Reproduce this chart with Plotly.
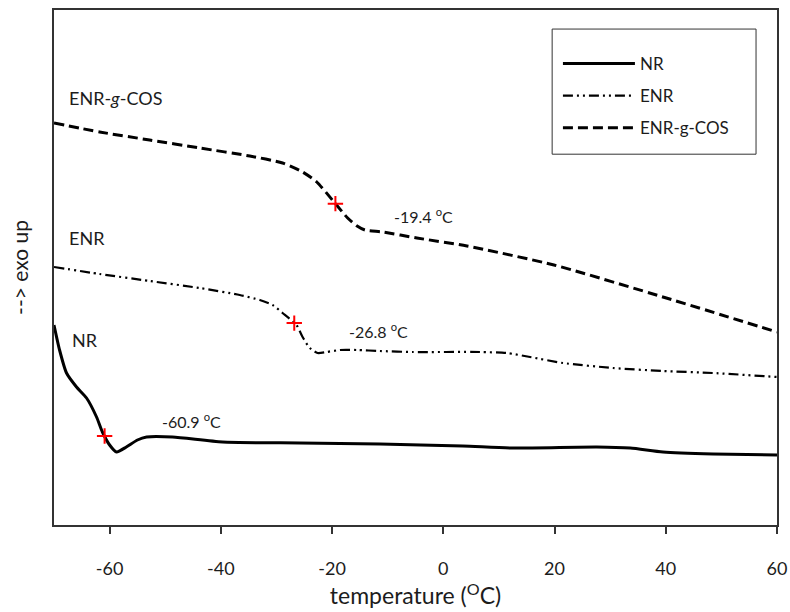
import numpy as np
import plotly.graph_objects as go

# DSC heat-flow traces (arbitrary units, exo up) vs temperature (°C)
nr_t = [-70, -69.0, -67.75, -65.95, -64.15, -62.35, -61.3, -60.0, -58.75, -57.0, -55.0,
        -53.35, -48.7, -39.7, -25.8, -11.4, 3.5, 12.5, 27.6, 33.6, 39.5, 48.5, 60]
nr_q = [2.00, 1.75, 1.52, 1.38, 1.27, 1.08, 0.93, 0.80, 0.73, 0.78, 0.85,
        0.88, 0.88, 0.83, 0.82, 0.81, 0.79, 0.77, 0.78, 0.77, 0.73, 0.71, 0.70]

enr_t = [-70, -61.8, -52.8, -43.8, -36.6, -33.0, -30.7, -28.9, -26.4, -25.3, -24.0,
         -22.6, -21.0, -18.6, -15.5, -11.4, -5.5, 6.6, 11.4, 15.6, 21.5, 30.5, 39.5, 48.5, 60]
enr_q = [2.58, 2.51, 2.44, 2.37, 2.30, 2.25, 2.20, 2.12, 2.00, 1.88, 1.77,
         1.72, 1.73, 1.75, 1.75, 1.74, 1.73, 1.73, 1.72, 1.68, 1.62, 1.57, 1.54, 1.52, 1.48]

cos_t = [-70, -61.8, -52.8, -43.8, -34.8, -28.9, -25.3, -22.75, -19.5, -17.2, -15.5,
         -14.1, -10.9, -4.75, 4.25, 19.9, 40.1, 60]
cos_q = [4.02, 3.93, 3.85, 3.77, 3.69, 3.62, 3.53, 3.43, 3.22, 3.07, 2.99,
         2.95, 2.93, 2.87, 2.79, 2.60, 2.27, 1.93]

# glass transition temperatures (°C)
tg_nr, tg_enr, tg_cos = -60.9, -26.8, -19.4

tick_vals = [-60, -40, -20, 0, 20, 40, 60]
tick_text = ["-60", "-40", "-20", "0", "20", "40", "60"]

FONT = "Lato"
TXT = "#1c1c1c"
AX = "#333333"

fig = go.Figure()

fig.add_trace(go.Scatter(
    x=nr_t, y=nr_q, name="NR", mode="lines", legendgroup="a",
    line=dict(color="black", width=3, shape="spline", smoothing=0.6)))
fig.add_trace(go.Scatter(
    x=enr_t, y=enr_q, name="ENR", mode="lines", legendgroup="b",
    line=dict(color="black", width=2.2, shape="spline", smoothing=0.6,
              dash="10px,4px,2px,4px,2px,4px")))
fig.add_trace(go.Scatter(
    x=cos_t, y=cos_q, name="ENR-g-COS", mode="lines", legendgroup="c",
    line=dict(color="black", width=3, shape="spline", smoothing=0.6,
              dash="10px,5px")))

# Tg markers placed on each curve
tg_x = [tg_nr, tg_enr, tg_cos]
tg_y = [float(np.interp(tg_nr, nr_t, nr_q)),
        float(np.interp(tg_enr, enr_t, enr_q)),
        float(np.interp(tg_cos, cos_t, cos_q))]
fig.add_trace(go.Scatter(
    x=tg_x, y=tg_y, mode="markers", showlegend=False,
    marker=dict(symbol="cross-thin", size=11, color="red",
                line=dict(color="red", width=2))))

# Tg value labels
for t, lx, ly in [(tg_nr, -51.0, 1.05), (tg_enr, -17.35, 1.95), (tg_cos, -9.25, 3.10)]:
    fig.add_annotation(x=lx, y=ly, xanchor="left", yanchor="middle", showarrow=False,
                       text=f"{t:.1f} <sup>o</sup>C",
                       font=dict(family=FONT, size=16, color=TXT))

# curve names
for txt, lx, ly in [("ENR-<i>g</i>-COS", -67.6, 4.27), ("ENR", -67.6, 2.87), ("NR", -67.2, 1.85)]:
    fig.add_annotation(x=lx, y=ly, xanchor="left", yanchor="middle", showarrow=False,
                       text=txt, font=dict(family=FONT, size=18, color=TXT))

# legend frame
fig.add_shape(type="rect", xref="paper", yref="paper",
              x0=0.689, x1=0.971, y0=0.720, y1=0.963,
              line=dict(color=AX, width=1), fillcolor="rgba(0,0,0,0)", layer="above")

fig.update_layout(
    width=790, height=612,
    margin=dict(l=54, r=13, t=10, b=87),
    paper_bgcolor="white", plot_bgcolor="white",
    font=dict(family=FONT, color=TXT),
    legend=dict(x=0.697, y=0.930, xanchor="left", yanchor="top",
                borderwidth=0, bgcolor="rgba(0,0,0,0)",
                font=dict(family=FONT, size=17, color=TXT),
                tracegroupgap=7, traceorder="grouped", itemwidth=72),
    xaxis=dict(range=[-70, 60], tickvals=tick_vals, ticktext=tick_text,
               automargin=False, ticklabeloverflow="allow",
               ticks="outside", ticklen=7, tickwidth=2, tickcolor=AX,
               ticklabelstandoff=19,
               showline=True, linecolor=AX, linewidth=2, mirror=True,
               showgrid=False, zeroline=False,
               tickfont=dict(family=FONT, size=18, color=TXT),
               title=dict(text="temperature (<sup>O</sup>C)", standoff=4,
                          font=dict(family=FONT, size=23, color=TXT))),
    yaxis=dict(range=[0, 5.15], showticklabels=False, ticks="", automargin=False,
               showline=True, linecolor=AX, linewidth=2, mirror=True,
               showgrid=False, zeroline=False,
               title=dict(text="--> exo up", standoff=18,
                          font=dict(family=FONT, size=21, color=TXT))),
)

fig.write_html("out.html")
